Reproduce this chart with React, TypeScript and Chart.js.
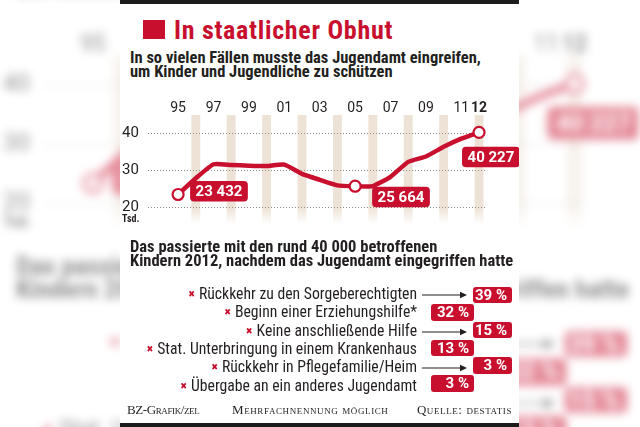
import React, { useEffect, useRef } from "react";
import { Chart, registerables } from "chart.js";

Chart.register(...registerables);

// ---------- data ----------
const years = [1995, 1996, 1997, 1998, 1999, 2000, 2001, 2002, 2003, 2004, 2005, 2006, 2007, 2008, 2009, 2010, 2011, 2012];
const casesTsd = [23.432, 27.8, 31.6, 31.4, 31.2, 31.1, 31.5, 29.0, 27.4, 25.9, 25.664, 25.7, 28.2, 32.25, 33.7, 36.3, 38.5, 40.227];
const labelledYears = [1995, 2005, 2012];
const xTickYears = [1995, 1997, 1999, 2001, 2003, 2005, 2007, 2009, 2011, 2012];
const stripeYears = [1996, 1998, 2000, 2002, 2004, 2006, 2008, 2010, 2012];
const yTickValues = [20, 30, 40];
const outcomeLabels = [
  "Rückkehr zu den Sorgeberechtigten",
  "Beginn einer Erziehungshilfe*",
  "Keine anschließende Hilfe",
  "Stat. Unterbringung in einem Krankenhaus",
  "Rückkehr in Pflegefamilie/Heim",
  "Übergabe an ein anderes Jugendamt",
];
const outcomeShares = [39, 32, 15, 13, 3, 3];

// ---------- style ----------
const RED = "#c8102e";
const DARK = "#231f20";
const BEIGE = "rgba(196, 160, 118, 0.3)";
const BEIGE0 = "rgba(196, 160, 118, 0)";
const SANS = 'Roboto, "DejaVu Sans Condensed", sans-serif';
const SERIF = '"Liberation Serif", "DejaVu Serif", serif';
const Y_MIN = 15.46;
const Y_MAX = 44.9;
const X_MIN = 1993.3;
const X_MAX = 2012.45;

const labelOffsets: Record<number, [number, number]> = {
  1995: [12, -13.5],
  2005: [17, 0.5],
  2012: [-17, 14.5],
};

function fmt(v: number): string {
  return Math.round(v * 1000)
    .toString()
    .replace(/\B(?=(\d{3})+(?!\d))/g, " ");
}

const valueLabelPlugin = {
  id: "valueLabels",
  afterDatasetsDraw(chart: any) {
    const meta = chart.getDatasetMeta(0);
    const ctx = chart.ctx as CanvasRenderingContext2D;
    ctx.save();
    ctx.font = `bold 15px ${SANS}`;
    years.forEach((yr, i) => {
      const off = labelOffsets[yr];
      if (!off || !labelledYears.includes(yr)) return;
      const pt = meta.data[i];
      const text = fmt(casesTsd[i]);
      const w = ctx.measureText(text).width + 11;
      const h = 20.5;
      const x = pt.x + off[0];
      const y = pt.y + off[1];
      ctx.fillStyle = RED;
      ctx.beginPath();
      (ctx as any).roundRect(x, y, w, h, 4);
      ctx.fill();
      ctx.fillStyle = "#ffffff";
      ctx.textAlign = "center";
      ctx.textBaseline = "middle";
      ctx.fillText(text, x + w / 2, y + h / 2 + 1);
    });
    ctx.restore();
  },
};

function makeConfig(): any {
  return {
    type: "line",
    data: {
      datasets: [
        {
          type: "line",
          data: years.map((y, i) => ({ x: y, y: casesTsd[i] })),
          borderColor: RED,
          borderWidth: 4.5,
          tension: 0.15,
          borderCapStyle: "round",
          borderJoinStyle: "round",
          pointRadius: (c: any) => (labelledYears.includes(years[c.dataIndex]) ? 5.5 : 0),
          pointBackgroundColor: "#ffffff",
          pointBorderColor: RED,
          pointBorderWidth: 2.2,
          order: 0,
          clip: false,
        },
        {
          type: "bar",
          data: stripeYears.map((y) => ({ x: y, y: [Y_MIN, Y_MAX] })),
          backgroundColor: (c: any) => {
            const chart = c.chart;
            const area = chart.chartArea;
            if (!area) return BEIGE;
            const y20 = chart.scales.y.getPixelForValue(20);
            const g = chart.ctx.createLinearGradient(0, area.top, 0, area.bottom);
            const stop = Math.min(1, Math.max(0, (y20 - area.top) / (area.bottom - area.top)));
            g.addColorStop(0, BEIGE);
            g.addColorStop(stop, BEIGE);
            g.addColorStop(1, BEIGE0);
            return g;
          },
          borderWidth: 0,
          barPercentage: 0.5,
          categoryPercentage: 1,
          order: 1,
        },
      ],
    },
    options: {
      animation: false,
      responsive: false,
      maintainAspectRatio: false,
      layout: { padding: { left: 0, top: 0, right: 32, bottom: 0 } },
      plugins: { legend: { display: false }, tooltip: { enabled: false } },
      scales: {
        x: {
          type: "linear",
          position: "top",
          min: X_MIN,
          max: X_MAX,
          offset: false,
          grid: { display: false, drawTicks: false, offset: false },
          border: { display: false },
          afterBuildTicks: (s: any) => {
            s.ticks = xTickYears.map((v) => ({ value: v }));
          },
          afterFit: (s: any) => {
            s.height = 22;
          },
          ticks: {
            autoSkip: false,
            maxRotation: 0,
            padding: -2,
            color: DARK,
            font: (c: any) => ({
              family: SANS,
              size: 14,
              weight: c.tick && c.tick.value === 2012 ? "bold" : "normal",
            }),
            callback: (v: any) => String(v).slice(2),
          },
        },
        y: {
          type: "linear",
          min: Y_MIN,
          max: Y_MAX,
          afterBuildTicks: (s: any) => {
            s.ticks = yTickValues.map((v) => ({ value: v }));
          },
          afterFit: (s: any) => {
            s.width = 26;
          },
          grid: { color: "#8a8a8a", lineWidth: 1, drawTicks: false },
          border: { display: false, dash: [1, 2] },
          ticks: {
            crossAlign: "far",
            padding: 0,
            color: DARK,
            font: { family: SANS, size: 15 },
          },
        },
      },
    },
    plugins: [valueLabelPlugin],
  };
}

function Arrow({ left, top }: { left: number; top: number }) {
  return (
    <svg width={46} height={8} style={{ position: "absolute", left, top }}>
      <line x1={0} y1={4} x2={40} y2={4} stroke={DARK} strokeWidth={1.1} />
      <polygon points="38,0.8 45,4 38,7.2" fill={DARK} />
    </svg>
  );
}

function Panel() {
  const ref = useRef<HTMLCanvasElement>(null);
  useEffect(() => {
    if (!ref.current) return;
    const chart = new Chart(ref.current, makeConfig());
    return () => chart.destroy();
  }, []);

  const rowTop = (i: number) => 284.7 + 18.4 * i;
  const boxTop = (i: number) => 286.5 + 17.7 * i;

  return (
    <div
      style={{
        position: "absolute",
        left: 0,
        top: 0,
        width: 399,
        height: 427,
        background: "#ffffff",
        fontFamily: SANS,
        fontStretch: "75%",
        color: DARK,
        overflow: "hidden",
      }}
    >
      <div style={{ position: "absolute", left: 0, top: 0, width: 399, height: 3.5, background: "#1c1c1c" }} />
      <div style={{ position: "absolute", left: 0, top: 423, width: 399, height: 4, background: "#1c1c1c" }} />

      <div style={{ position: "absolute", left: 23, top: 20, width: 22, height: 19, background: RED }} />
      <div
        style={{
          position: "absolute",
          left: 54,
          top: 17.4,
          fontSize: 26,
          lineHeight: "26px",
          fontWeight: "bold",
          letterSpacing: 0.7,
          color: RED,
          whiteSpace: "nowrap",
        }}
      >
        In staatlicher Obhut
      </div>
      <div
        style={{
          position: "absolute",
          left: 10,
          top: 50.6,
          fontSize: 16.5,
          lineHeight: "14px",
          fontWeight: "bold",
          whiteSpace: "nowrap",
        }}
      >
        In so vielen Fällen musste das Jugendamt eingreifen,
        <br />
        um Kinder und Jugendliche zu schützen
      </div>

      <canvas
        ref={ref}
        width={397}
        height={140}
        style={{ position: "absolute", left: 2, top: 93, width: 397, height: 140 }}
      />
      <div
        style={{
          position: "absolute",
          left: 2,
          top: 214,
          fontSize: 10,
          lineHeight: "10px",
          fontWeight: "bold",
        }}
      >
        Tsd.
      </div>

      <div
        style={{
          position: "absolute",
          left: 10,
          top: 240,
          fontSize: 16.5,
          lineHeight: "14px",
          fontWeight: "bold",
          whiteSpace: "nowrap",
        }}
      >
        Das passierte mit den rund 40 000 betroffenen
        <br />
        Kindern 2012, nachdem das Jugendamt eingegriffen hatte
      </div>

      {outcomeLabels.map((label, i) => {
        const withArrow = i % 2 === 0;
        return (
          <React.Fragment key={label}>
            <div
              style={{
                position: "absolute",
                left: 0,
                width: 297,
                top: rowTop(i),
                fontSize: 15.7,
                lineHeight: "18px",
                textAlign: "right",
                whiteSpace: "nowrap",
              }}
            >
              <span
                style={{
                  color: RED,
                  fontFamily: '"DejaVu Sans", sans-serif',
                  fontSize: 9,
                  marginRight: 4,
                  position: "relative",
                  top: -2,
                }}
              >
                ✖
              </span>
              {label}
            </div>
            {withArrow && <Arrow left={302} top={rowTop(i) + 6} />}
            <div
              style={{
                position: "absolute",
                left: withArrow ? 352.5 : 311,
                top: boxTop(i),
                width: withArrow ? 39.5 : 43,
                height: 16.5,
                background: RED,
                borderRadius: 3,
                color: "#ffffff",
                fontWeight: "bold",
                fontSize: 15,
                fontStretch: "100%",
                lineHeight: "17px",
                textAlign: "right",
                paddingRight: 5,
                boxSizing: "border-box",
                whiteSpace: "nowrap",
              }}
            >
              {outcomeShares[i]} %
            </div>
          </React.Fragment>
        );
      })}

      <div
        style={{
          position: "absolute",
          left: 0,
          top: 403.4,
          width: 399,
          height: 13,
          fontFamily: SERIF,
          fontStretch: "100%",
          fontVariant: "small-caps",
          fontSize: 13,
          lineHeight: "13px",
          color: DARK,
          whiteSpace: "nowrap",
        }}
      >
        <span style={{ position: "absolute", left: 7, letterSpacing: -0.4 }}>BZ-Grafik/zel</span>
        <span style={{ position: "absolute", left: 112, letterSpacing: 0.6 }}>Mehrfachnennung möglich</span>
        <span style={{ position: "absolute", right: 7, letterSpacing: 0.6 }}>Quelle: destatis</span>
      </div>
    </div>
  );
}

export default function App() {
  return (
    <div
      style={{
        position: "fixed",
        left: 0,
        top: 0,
        width: 640,
        height: 427,
        overflow: "hidden",
        background: "#ffffff",
      }}
    >
      <div
        style={{
          position: "absolute",
          left: 0,
          top: 0,
          width: 399,
          height: 427,
          transform: "translate(0px, -128px) scale(1.6)",
          transformOrigin: "0 0",
          filter: "blur(3px)",
          opacity: 0.5,
        }}
      >
        <Panel />
      </div>
      <div style={{ position: "absolute", left: 120, top: 0, width: 399, height: 427 }}>
        <Panel />
      </div>
    </div>
  );
}
